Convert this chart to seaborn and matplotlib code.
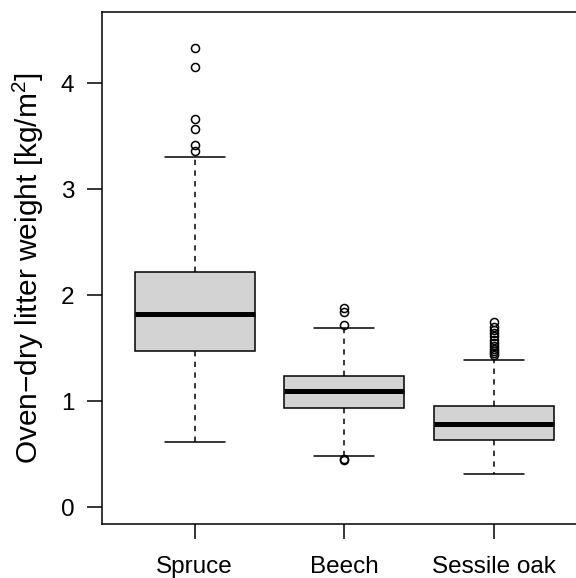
import numpy as np
import pandas as pd
import matplotlib
matplotlib.use("Agg")
import matplotlib.pyplot as plt
import seaborn as sns

# ---- values ----
species = ["Spruce", "Beech", "Sessile oak"]
whisker_low = [0.61, 0.48, 0.31]
q1 = [1.47, 0.93, 0.635]
median = [1.82, 1.095, 0.785]
q3 = [2.22, 1.24, 0.95]
whisker_high = [3.30, 1.69, 1.39]
outliers_spruce = [3.36, 3.42, 3.57, 3.66, 4.15, 4.33]
outliers_beech = [0.44, 0.45, 1.72, 1.84, 1.875]
outliers_oak = [1.43, 1.45, 1.47, 1.49, 1.52, 1.55, 1.58, 1.61, 1.64, 1.67, 1.70, 1.75]
y_ticks = [0, 1, 2, 3, 4]

outliers = [outliers_spruce, outliers_beech, outliers_oak]

# Rebuild a sample per species whose box statistics match the read values
rows = []
m = 40
for i, sp in enumerate(species):
    vals = ([whisker_low[i]] + [q1[i]] * m + [median[i]] * m + [q3[i]] * m
            + [whisker_high[i]] + list(outliers[i]))
    rows += [(sp, v) for v in vals]
df = pd.DataFrame(rows, columns=["species", "weight"])

sns.set_style("ticks")
plt.rcParams["font.family"] = ["Liberation Sans", "DejaVu Sans"]
plt.rcParams["mathtext.fontset"] = "custom"
plt.rcParams["mathtext.rm"] = "Liberation Sans"
plt.rcParams["mathtext.it"] = "Liberation Sans:italic"
plt.rcParams["text.color"] = "black"
plt.rcParams["axes.labelcolor"] = "black"
plt.rcParams["xtick.color"] = "black"
plt.rcParams["ytick.color"] = "black"

fig = plt.figure(figsize=(5.76, 5.78), dpi=100)
ax = fig.add_axes([102 / 576, 54 / 578, 474 / 576, 512 / 578])

lw = 1.1
sns.boxplot(
    data=df, x="species", y="weight", order=species, ax=ax,
    color="#D3D3D3", saturation=1, linecolor="black", linewidth=lw,
    width=0.8, whis=1.5,
    medianprops=dict(color="black", linewidth=3.6, solid_capstyle="butt"),
    whiskerprops=dict(color="black", linewidth=lw, linestyle=(0, (3.5, 3.5))),
    capprops=dict(color="black", linewidth=lw),
    boxprops=dict(edgecolor="black", linewidth=lw),
    flierprops=dict(marker="o", markerfacecolor="none", markeredgecolor="black",
                    markersize=5.8, markeredgewidth=1.1),
)

ax.set_xlim(-0.62, 2.55)
ax.set_ylim(-0.16, 4.67)
ax.set_yticks(y_ticks)
ax.set_yticklabels([str(t) for t in y_ticks])
ax.set_xlabel("")
ax.set_ylabel("Oven\u2212dry litter weight [kg/m$^2$]", fontsize=21.5,
              color="black")
ax.yaxis.set_label_coords(-0.118, 0.5)
ax.tick_params(axis="both", labelsize=17.5, length=11, width=1.1,
               color="black", labelcolor="black")
ax.tick_params(axis="x", pad=12)
ax.tick_params(axis="y", pad=9)
for s in ["left", "bottom", "top"]:
    ax.spines[s].set_linewidth(1.1)
    ax.spines[s].set_color("black")
ax.spines["right"].set_visible(False)
ax.spines["top"].set_visible(True)

fig.savefig("out.png", dpi=100)
